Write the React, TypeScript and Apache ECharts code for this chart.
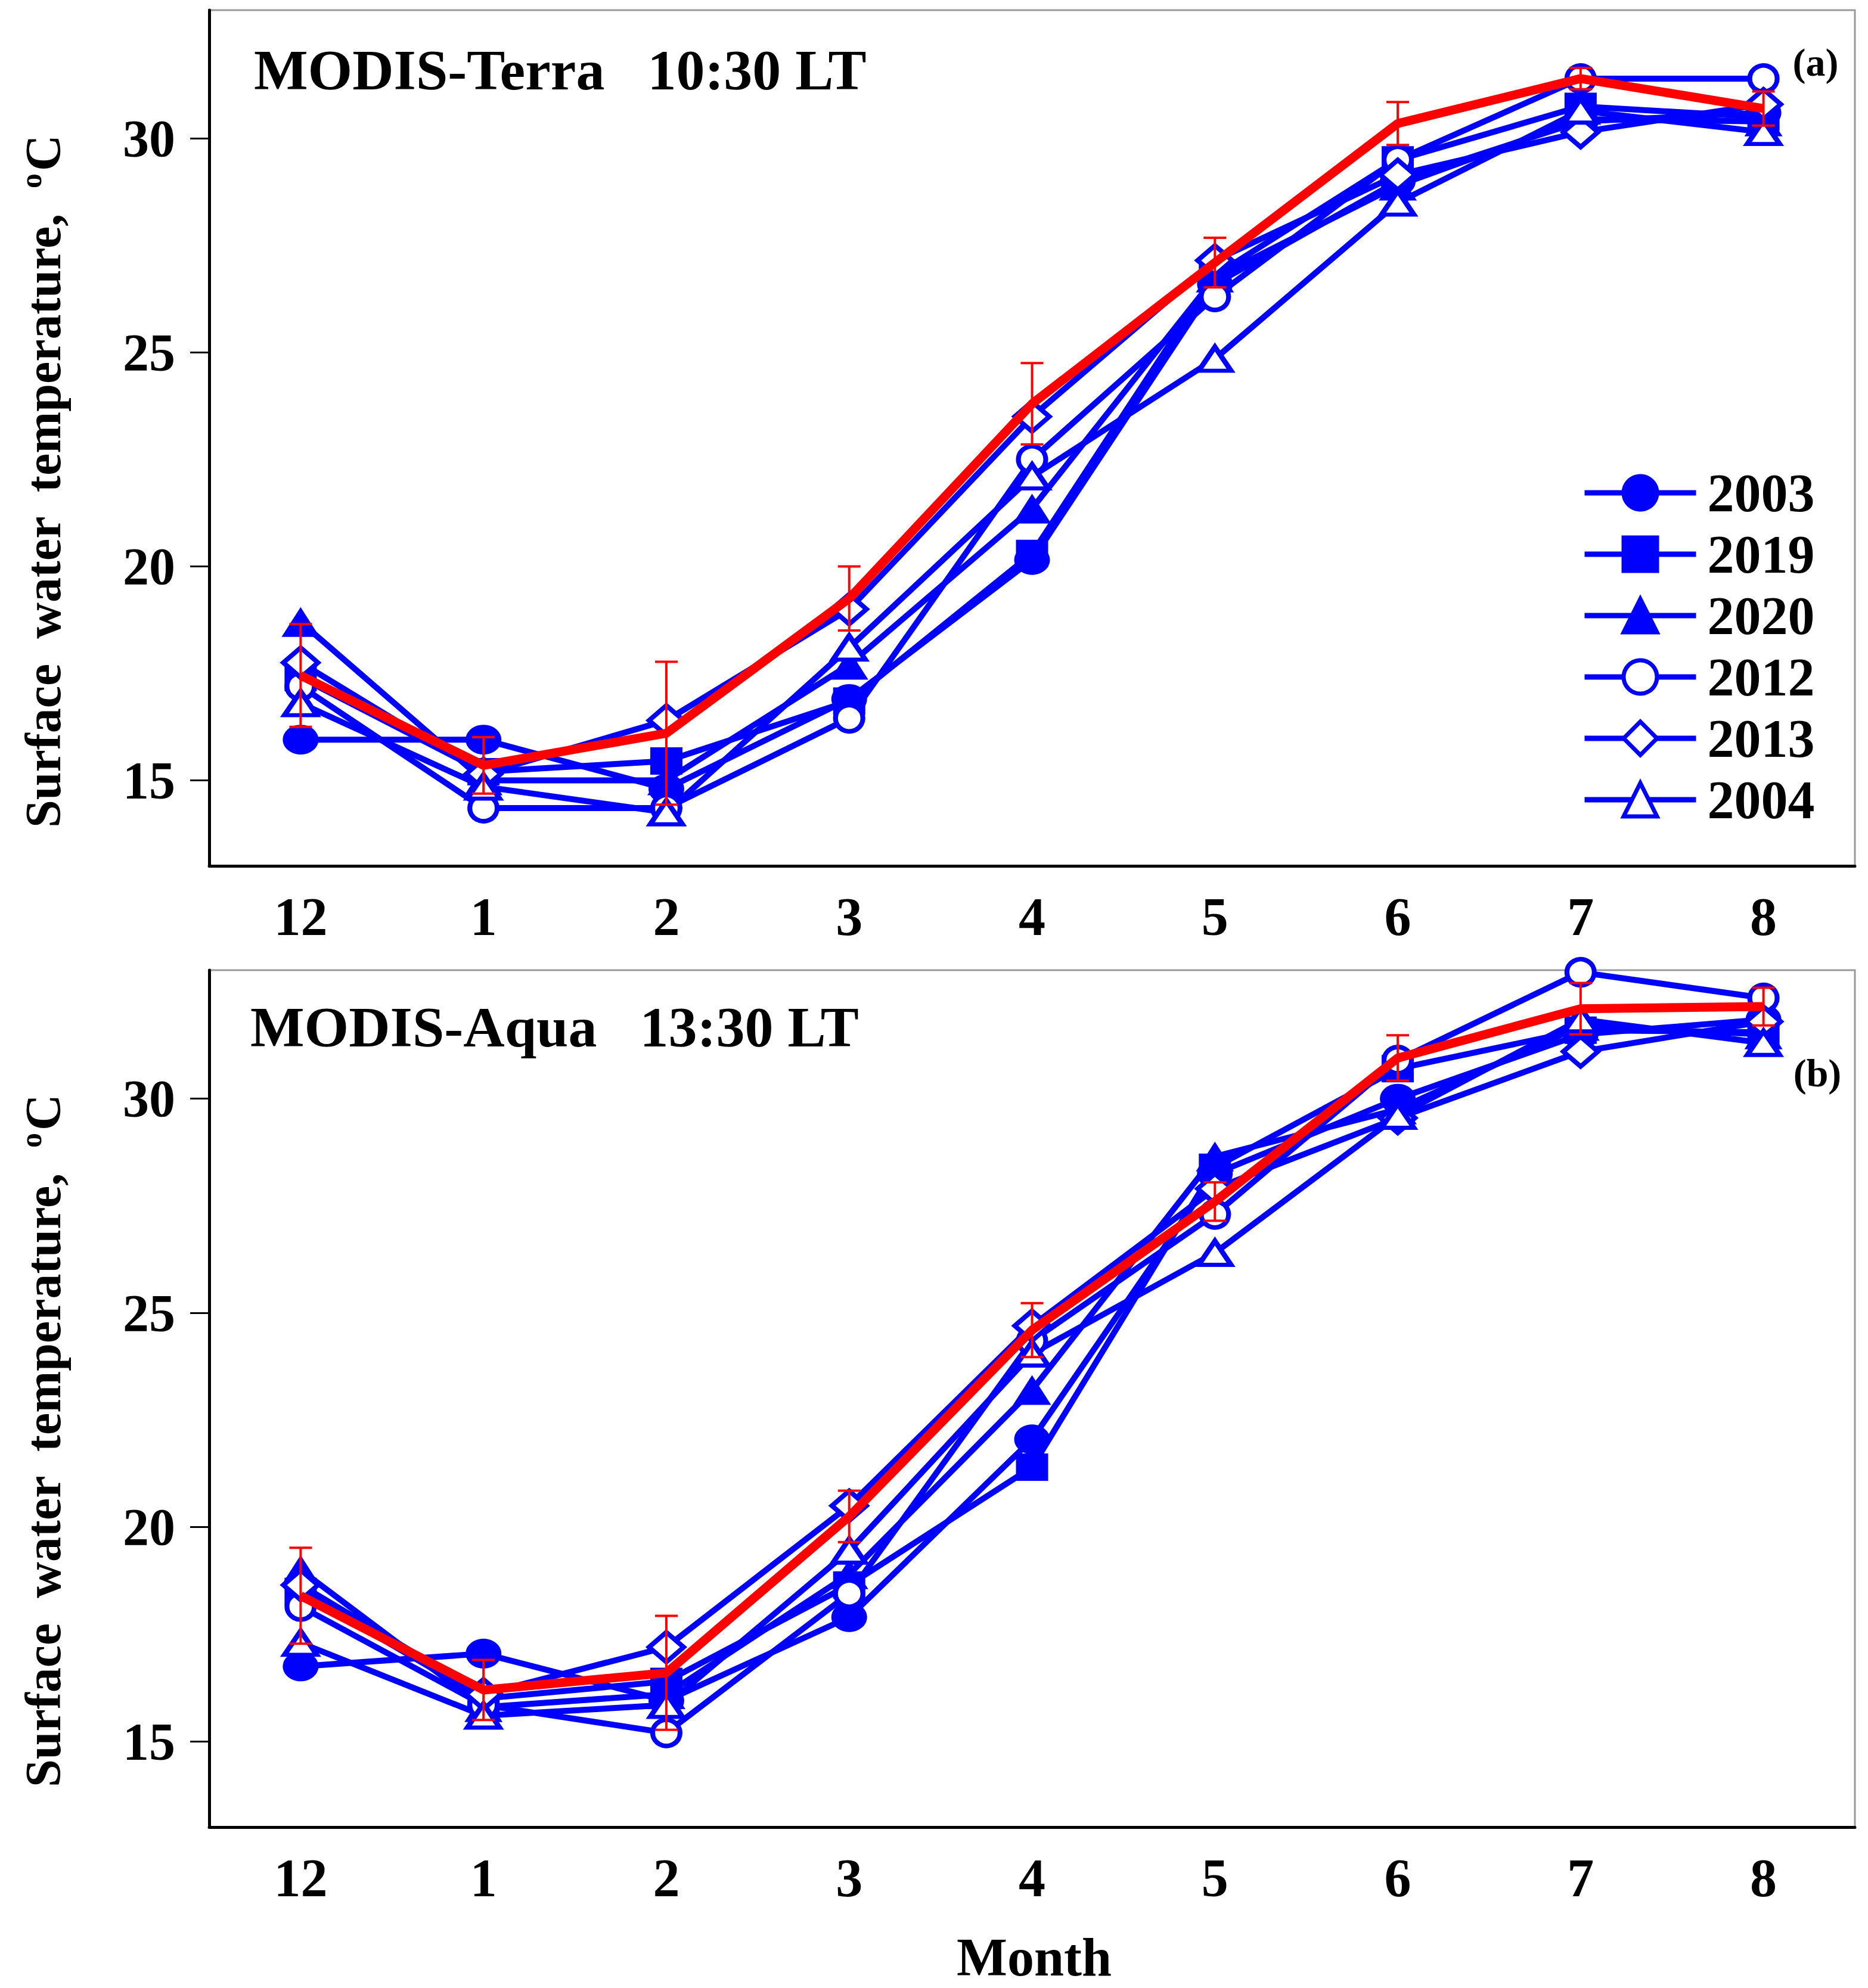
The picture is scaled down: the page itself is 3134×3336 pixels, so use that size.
import React, { useEffect, useRef } from "react";
import * as echarts from "echarts";

// ---------- data ----------
const months = ["12", "1", "2", "3", "4", "5", "6", "7", "8"];
const years = ["2003", "2019", "2020", "2012", "2013", "2004"];
const yTicks = [15, 20, 25, 30];

// Panel (a) MODIS-Terra 10:30 LT
const terra2003 = [15.95, 15.95, 14.8, 16.9, 20.15, 26.6, 29.0, 30.4, 30.6];
const terra2019 = [17.4, 15.2, 15.45, 16.85, 20.3, 26.8, 29.5, 30.75, 30.5];
const terra2020 = [18.7, 15.0, 15.0, 17.7, 21.35, 26.75, 28.9, 30.45, 30.4];
const terra2012 = [17.2, 14.35, 14.35, 16.45, 22.5, 26.3, 29.5, 31.4, 31.4];
const terra2013 = [17.75, 15.15, 16.4, 19.0, 23.5, 27.15, 29.15, 30.15, 30.8];
const terra2004 = [16.8, 14.85, 14.25, 18.1, 22.1, 24.85, 28.5, 30.65, 30.15];
const terraMean = [17.45, 15.35, 16.1, 19.25, 23.8, 27.1, 30.35, 31.4, 30.7];
const terraErr = [1.2, 0.66, 1.67, 0.75, 0.95, 0.58, 0.5, 0.25, 0.4];

// Panel (b) MODIS-Aqua 13:30 LT
const aqua2003 = [16.75, 17.05, 15.95, 17.9, 22.05, 28.25, 30.0, 31.5, 31.85];
const aqua2019 = [18.5, 16.0, 16.4, 18.65, 21.4, 28.4, 30.7, 31.6, 31.55];
const aqua2020 = [19.0, 15.8, 16.1, 18.9, 23.2, 28.65, 29.75, 31.7, 31.5];
const aqua2012 = [18.15, 15.85, 15.2, 18.45, 24.35, 27.3, 30.9, 32.95, 32.35];
const aqua2013 = [18.65, 16.1, 17.2, 20.5, 24.7, 27.9, 29.55, 31.1, 31.8];
const aqua2004 = [17.3, 15.6, 15.85, 19.45, 24.05, 26.4, 29.6, 31.85, 31.3];
const aquaMean = [18.4, 16.2, 16.6, 20.25, 24.6, 27.6, 30.95, 32.1, 32.15];
const aquaErr = [1.12, 0.7, 1.33, 0.6, 0.63, 0.45, 0.53, 0.6, 0.44];

const terraYears = [terra2003, terra2019, terra2020, terra2012, terra2013, terra2004];
const aquaYears = [aqua2003, aqua2019, aqua2020, aqua2012, aqua2013, aqua2004];

// ---------- styles ----------
const BLUE = "#0000ff";
const RED = "#ff0000";
const FONT = "Liberation Serif";

const markerStyles = [
  { symbol: "circle", size: [60, 50], filled: true },
  { symbol: "rect", size: [54, 46], filled: true },
  { symbol: "triangle", size: [64, 50], filled: true },
  { symbol: "circle", size: [46, 44], filled: false },
  { symbol: "diamond", size: [58, 50], filled: false },
  { symbol: "triangle", size: [54, 40], filled: false },
];

function yearSeries(panel: number, values: number[][]) {
  return years.map((name, k) => {
    const m = markerStyles[k];
    return {
      type: "line",
      name,
      xAxisIndex: panel,
      yAxisIndex: panel,
      data: values[k],
      symbol: m.symbol,
      symbolSize: m.size,
      showAllSymbol: true,
      clip: false,
      lineStyle: { color: BLUE, width: 10 },
      itemStyle: {
        color: m.filled ? BLUE : "#ffffff",
        borderColor: BLUE,
        borderWidth: m.filled ? 0 : 8,
      },
      emphasis: { disabled: true },
      z: 3,
    };
  });
}

function meanSeries(panel: number, mean: number[], err: number[]) {
  return [
    {
      type: "line",
      name: "mean" + panel,
      xAxisIndex: panel,
      yAxisIndex: panel,
      data: mean,
      symbol: "none",
      lineStyle: { color: RED, width: 15 },
      itemStyle: { color: RED },
      z: 5,
    },
    {
      type: "custom",
      name: "err" + panel,
      xAxisIndex: panel,
      yAxisIndex: panel,
      data: mean.map((v, i) => [i, v - err[i], v + err[i]]),
      encode: { x: 0, y: [1, 2] },
      renderItem: (params: any, api: any) => {
        const x = api.value(0);
        const top = api.coord([x, api.value(2)]);
        const bot = api.coord([x, api.value(1)]);
        const hw = 19;
        const st = { stroke: RED, lineWidth: 4 };
        return {
          type: "group",
          children: [
            { type: "line", shape: { x1: top[0], y1: top[1], x2: bot[0], y2: bot[1] }, style: st },
            { type: "line", shape: { x1: top[0] - hw, y1: top[1], x2: top[0] + hw, y2: top[1] }, style: st },
            { type: "line", shape: { x1: bot[0] - hw, y1: bot[1], x2: bot[0] + hw, y2: bot[1] }, style: st },
          ],
        };
      },
      z: 6,
    },
  ];
}

function xAxis(panel: number) {
  return {
    type: "category",
    gridIndex: panel,
    data: months,
    boundaryGap: true,
    axisLine: { lineStyle: { color: "#000", width: 5 } },
    axisTick: { alignWithLabel: true, length: 30, lineStyle: { color: "#000", width: 3 } },
    axisLabel: {
      color: "#000",
      fontFamily: FONT,
      fontWeight: "bold",
      fontSize: 90,
      margin: 40,
    },
    splitLine: { show: false },
  };
}

function yAxis(panel: number) {
  return {
    type: "value",
    gridIndex: panel,
    min: 13,
    max: 33,
    axisLine: { show: true, lineStyle: { color: "#000", width: 5 } },
    axisTick: {
      show: true,
      length: 32,
      customValues: yTicks,
      lineStyle: { color: "#000", width: 3 },
    },
    axisLabel: {
      customValues: yTicks,
      color: "#000",
      fontFamily: FONT,
      fontWeight: "bold",
      fontSize: 88,
      margin: 57,
    },
    splitLine: { show: false },
  };
}

function txt(text: string, x: number, y: number, size: number, align = "left") {
  return {
    type: "text",
    x,
    y,
    style: {
      text,
      fill: "#000",
      fontFamily: FONT,
      fontWeight: "bold",
      fontSize: size,
      textAlign: align,
      textVerticalAlign: "middle",
      align,
      verticalAlign: "middle",
    },
    z: 10,
  };
}

function yName(y: number) {
  return {
    type: "text",
    x: 72,
    y,
    rotation: Math.PI / 2,
    style: {
      text: "Surface  water  temperature,  {sup|o}C",
      fill: "#000",
      fontFamily: FONT,
      fontWeight: "bold",
      fontSize: 84,
      textAlign: "center",
      textVerticalAlign: "middle",
      align: "center",
      verticalAlign: "middle",
      rich: {
        sup: {
          fontFamily: FONT,
          fontWeight: "bold",
          fontSize: 50,
          fill: "#000",
          verticalAlign: "top",
          padding: [0, 4, 40, 0],
        },
      },
    },
    z: 10,
  };
}

export default function App() {
  const ref = useRef<HTMLDivElement>(null);

  useEffect(() => {
    if (!ref.current) return;
    const chart = echarts.init(ref.current, undefined, { renderer: "svg" });
    const option: any = {
      animation: false,
      backgroundColor: "#ffffff",
      grid: [
        { left: 351, right: 22, top: 17, height: 1436, show: true, borderColor: "#9a9a9a", borderWidth: 3 },
        { left: 351, right: 22, top: 1628, height: 1438, show: true, borderColor: "#9a9a9a", borderWidth: 3 },
      ],
      xAxis: [xAxis(0), xAxis(1)],
      yAxis: [yAxis(0), yAxis(1)],
      legend: {
        data: years,
        orient: "vertical",
        left: 2649,
        top: 777,
        itemWidth: 187,
        itemHeight: 70,
        itemGap: 13,
        selectedMode: false,
        lineStyle: { width: 9 },
        itemStyle: { borderWidth: 7 },
        textStyle: {
          color: "#000",
          fontFamily: FONT,
          fontWeight: "bold",
          fontSize: 90,
          lineHeight: 88,
          padding: [0, 0, 0, 14],
        },
      },
      series: [
        ...yearSeries(0, terraYears),
        ...meanSeries(0, terraMean, terraErr),
        ...yearSeries(1, aquaYears),
        ...meanSeries(1, aquaMean, aquaErr),
      ],
      graphic: [
        txt("MODIS-Terra   10:30 LT", 426, 117, 96),
        txt("MODIS-Aqua   13:30 LT", 420, 1723, 96),
        txt("(a)", 3046, 104, 66, "center"),
        txt("(b)", 3049, 1800, 66, "center"),
        txt("Month", 1735, 3284, 90, "center"),
        yName(808),
        yName(2418),
      ],
    };
    chart.setOption(option);
    return () => chart.dispose();
  }, []);

  return (
    <div
      ref={ref}
      style={{ position: "absolute", left: 0, top: 0, width: 3134, height: 3336, background: "#fff" }}
    />
  );
}
